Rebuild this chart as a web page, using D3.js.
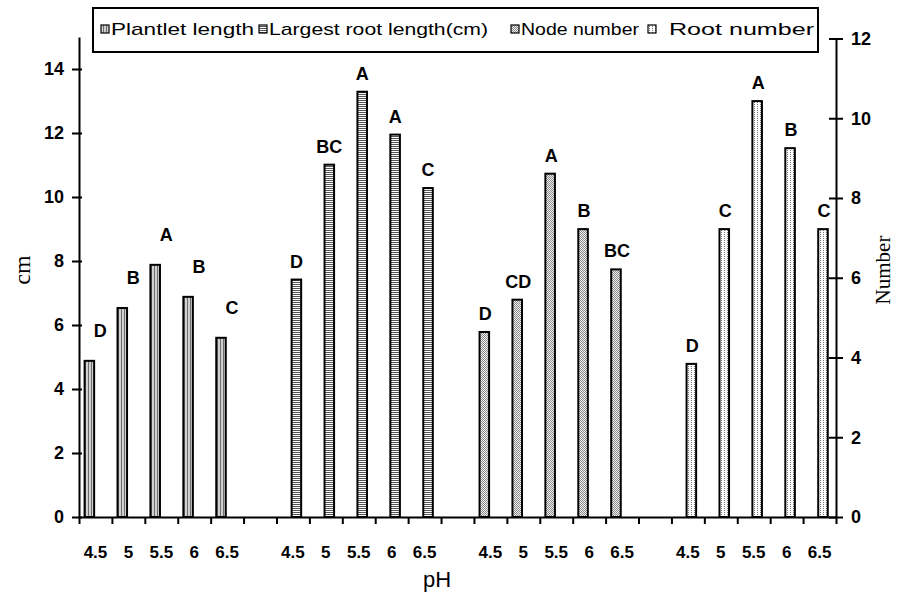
<!DOCTYPE html>
<html>
<head>
<meta charset="utf-8">
<script src="https://cdn.jsdelivr.net/npm/d3@7/dist/d3.min.js"></script>
<style>
  body { margin: 0; background: #fff; }
  svg { display: block; }
  text { font-family: "Liberation Sans", Arial, sans-serif; fill: #000; }
</style>
</head>
<body>
<svg id="chart"></svg>
<script>
// pH levels repeated in every group
var phLevels = ["4.5", "5", "5.5", "6", "6.5"]
var seriesNames = ["Plantlet length", "Largest root length(cm)", "Node number", "Root number"]

// cm, left axis
var plantletLength = [4.88, 6.53, 7.88, 6.88, 5.60]
var rootLength = [7.42, 11.01, 13.29, 11.95, 10.28]
// counts, right axis
var nodeNumber = [4.64, 5.45, 8.61, 7.22, 6.21]
var rootNumber = [3.84, 7.22, 10.43, 9.25, 7.22]

// significance letters
var plantletLetters = ["D", "B", "A", "B", "C"]
var rootLengthLetters = ["D", "BC", "A", "A", "C"]
var nodeLetters = ["D", "CD", "A", "B", "BC"]
var rootNumberLetters = ["D", "C", "A", "B", "C"]

var leftTicks = [0, 2, 4, 6, 8, 10, 12, 14]
var rightTicks = [0, 2, 4, 6, 8, 10, 12]

var series = [
  {name: seriesNames[0], values: plantletLength, letters: plantletLetters, axis: "left", slot: "a", pattern: "pat0", dx: 11, dy: -24},
  {name: seriesNames[1], values: rootLength, letters: rootLengthLetters, axis: "left", slot: "b", pattern: "pat1", dx: 0, dy: -12},
  {name: seriesNames[2], values: nodeNumber, letters: nodeLetters, axis: "right", slot: "a", pattern: "pat2", dx: 1, dy: -12},
  {name: seriesNames[3], values: rootNumber, letters: rootNumberLetters, axis: "right", slot: "b", pattern: "pat3", dx: 1, dy: -12}
]

var W = 898, H = 597
var left = 79, right = 836, base = 517

var svg = d3.select("#chart").attr("width", W).attr("height", H)

// fill patterns
var defs = svg.append("defs")
var p0 = defs.append("pattern").attr("id", "pat0").attr("patternUnits", "userSpaceOnUse").attr("width", 3).attr("height", 3)
p0.append("rect").attr("width", 3).attr("height", 3).attr("fill", "#d0d0d0")
p0.append("rect").attr("x", 1).attr("width", 1).attr("height", 3).attr("fill", "#6e6e6e")
var p1 = defs.append("pattern").attr("id", "pat1").attr("patternUnits", "userSpaceOnUse").attr("width", 2).attr("height", 2)
p1.append("rect").attr("width", 2).attr("height", 2).attr("fill", "#fff")
p1.append("rect").attr("width", 2).attr("height", 1).attr("fill", "#555")
var p2 = defs.append("pattern").attr("id", "pat2").attr("patternUnits", "userSpaceOnUse").attr("width", 2).attr("height", 2)
p2.append("rect").attr("width", 2).attr("height", 2).attr("fill", "#f2f2f2")
p2.append("rect").attr("width", 1).attr("height", 1).attr("fill", "#8a8a8a")
p2.append("rect").attr("x", 1).attr("y", 1).attr("width", 1).attr("height", 1).attr("fill", "#8a8a8a")
var p3 = defs.append("pattern").attr("id", "pat3").attr("patternUnits", "userSpaceOnUse").attr("width", 3).attr("height", 2)
p3.append("rect").attr("width", 3).attr("height", 2).attr("fill", "#fff")
p3.append("rect").attr("x", 1).attr("width", 1).attr("height", 1).attr("fill", "#777")

// 4 groups of 5 pH levels, one empty slot between groups
var slots = d3.range(23)
var xBand = d3.scaleBand().domain(slots).range([left, right]).padding(0)
var xEdge = d3.scaleLinear().domain([0, 23]).range([left, right])
var bw = xBand.bandwidth()
var inner = d3.scaleBand().domain(["a", "b"]).range([bw * 0.17, bw * 0.75])

var yLeft = d3.scaleLinear().domain([0, 15]).range([base, 37])
var yRight = d3.scaleLinear().domain([0, 12]).range([base, 38.5])

var bars = []
series.forEach(function(s, g){
  s.values.forEach(function(v, j){
    bars.push({s: s, v: v, letter: s.letters[j], ph: phLevels[j], slot: g * 6 + j})
  })
})

var yOf = function(d){
  return d.s.axis == "left" ? yLeft(d.v) : yRight(d.v)
}

svg.selectAll("rect.bar")
  .data(bars)
  .enter()
  .append("rect")
  .attr("class", "bar")
  .attr("x", function(d){ return xBand(d.slot) + inner(d.s.slot) })
  .attr("y", yOf)
  .attr("width", inner.bandwidth())
  .attr("height", function(d){ return base - yOf(d) })
  .attr("fill", function(d){ return "url(#" + d.s.pattern + ")" })
  .attr("stroke", "#000")
  .attr("stroke-width", 2)

svg.selectAll("text.letter")
  .data(bars)
  .enter()
  .append("text")
  .attr("class", "letter")
  .attr("x", function(d){ return xBand(d.slot) + inner(d.s.slot) + inner.bandwidth() / 2 + d.s.dx })
  .attr("y", function(d){ return yOf(d) + d.s.dy })
  .attr("text-anchor", "middle")
  .style("font-size", "18px")
  .style("font-weight", "bold")
  .text(function(d){ return d.letter })

// x axis: ticks on slot edges
var xAxis = svg.append("g")
  .attr("transform", "translate(0," + base + ")")
  .call(d3.axisBottom(xEdge).tickValues(d3.range(24)).tickFormat("").tickSizeInner(7).tickSizeOuter(0))
xAxis.select(".domain").attr("stroke-width", 2)
xAxis.selectAll(".tick line").attr("stroke-width", 2)

svg.selectAll("text.ph")
  .data(bars)
  .enter()
  .append("text")
  .attr("class", "ph")
  .attr("x", function(d){ return xBand(d.slot) + bw / 2 })
  .attr("y", 558)
  .attr("text-anchor", "middle")
  .style("font-size", "17px")
  .style("font-weight", "bold")
  .text(function(d){ return d.ph })

// y axes
var yAxisL = svg.append("g")
  .attr("transform", "translate(" + left + ",0)")
  .call(d3.axisLeft(yLeft).tickValues(leftTicks).tickSizeInner(7).tickSizeOuter(0).tickPadding(8))
yAxisL.select(".domain").attr("stroke-width", 2)
yAxisL.selectAll(".tick line").attr("x1", 3).attr("stroke-width", 2)
yAxisL.selectAll(".tick text").style("font-size", "18px").style("font-weight", "bold").attr("fill", "#000")

var yAxisR = svg.append("g")
  .attr("transform", "translate(" + right + ",0)")
  .call(d3.axisRight(yRight).tickValues(rightTicks).tickSizeInner(7).tickSizeOuter(0).tickPadding(8))
yAxisR.select(".domain").attr("stroke-width", 2)
yAxisR.selectAll(".tick line").attr("x1", -7).attr("stroke-width", 2)
yAxisR.selectAll(".tick text").style("font-size", "18px").style("font-weight", "bold").attr("fill", "#000")

// axis titles
svg.append("text")
  .attr("transform", "translate(30,270) rotate(-90)")
  .attr("text-anchor", "middle")
  .style("font-family", "'Liberation Serif', serif")
  .style("font-size", "24px")
  .attr("fill", "#333")
  .text("cm")

svg.append("text")
  .attr("transform", "translate(890,270) rotate(-90)")
  .attr("text-anchor", "middle")
  .style("font-family", "'Liberation Serif', serif")
  .style("font-size", "21px")
  .attr("fill", "#333")
  .text("Number")

svg.append("text")
  .attr("x", 437)
  .attr("y", 587)
  .attr("text-anchor", "middle")
  .style("font-size", "22px")
  .text("pH")

// legend
var legendPos = [
  {box: 101, text: 111, width: 143},
  {box: 259, text: 269, width: 219},
  {box: 511, text: 521, width: 118},
  {box: 648, text: 669, width: 145}
]
svg.append("rect")
  .attr("x", 93).attr("y", 8)
  .attr("width", 725).attr("height", 44)
  .attr("fill", "#fff")
  .attr("stroke", "#000")
  .attr("stroke-width", 2)

var leg = svg.selectAll("g.leg")
  .data(series)
  .enter()
  .append("g")
  .attr("class", "leg")

leg.append("rect")
  .attr("x", function(d, i){ return legendPos[i].box })
  .attr("y", 25)
  .attr("width", 8)
  .attr("height", 8)
  .attr("fill", function(d){ return "url(#" + d.pattern + ")" })
  .attr("stroke", "#000")
  .attr("stroke-width", 1.2)

leg.append("text")
  .attr("x", function(d, i){ return legendPos[i].text })
  .attr("y", 35)
  .attr("textLength", function(d, i){ return legendPos[i].width })
  .attr("lengthAdjust", "spacingAndGlyphs")
  .style("font-size", "17px")
  .text(function(d){ return d.name })
</script>
</body>
</html>
